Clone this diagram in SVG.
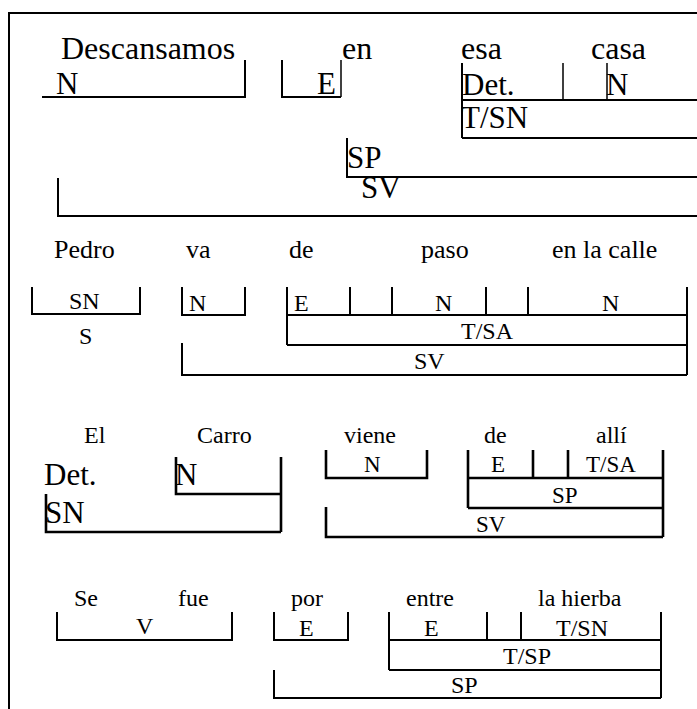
<svg xmlns="http://www.w3.org/2000/svg" width="697" height="709" viewBox="0 0 697 709">
<style>
text{font-family:"Liberation Serif","Times New Roman",serif;fill:#000}
.w1{font-size:32px}.l1{font-size:31px}
.w2{font-size:26px}.l2{font-size:24px}
.w3{font-size:24px}.b3{font-size:31px}.l3{font-size:23px}
.w4{font-size:24px}.l4{font-size:24px}
.br{fill:none;stroke:#000;stroke-width:2}
.br3{fill:none;stroke:#000;stroke-width:2.6}
.thin{fill:none;stroke:#000;stroke-width:1.5}
</style>
<rect width="697" height="709" fill="#fff"/>
<g id="frame"><path class="br" d="M9,709 V13 H697"/></g>

<g id="sentence1">
  <g id="s1-words">
    <text class="w1" x="61" y="59">Descansamos</text>
    <text class="w1" x="342" y="59">en</text>
    <text class="w1" x="461" y="59">esa</text>
    <text class="w1" x="591" y="59">casa</text>
  </g>
  <g id="s1-N"><path class="br" d="M42,97 H245 V60"/><text class="l1" x="56" y="94">N</text></g>
  <g id="s1-E"><path class="br" d="M282,60 V97 H341"/><path class="thin" d="M341,97 V60"/><text class="l1" x="317" y="94">E</text></g>
  <g id="s1-TSN">
    <path class="br" d="M462,63 V138 M462,100 H697 M462,138 H697"/>
    <path class="thin" d="M563,63 V100 M607,63 V100"/>
    <text class="l1" x="462" y="95">Det.</text>
    <text class="l1" x="606" y="95">N</text>
    <text class="l1" x="461" y="128">T/SN</text>
  </g>
  <g id="s1-SP"><path class="br" d="M347,138 V177 H697"/><text class="l1" x="347" y="168">SP</text></g>
  <g id="s1-SV"><path class="br" d="M58,178 V216 H697"/><text class="l1" x="361" y="198">SV</text></g>
</g>

<g id="sentence2">
  <g id="s2-words">
    <text class="w2" x="54" y="258">Pedro</text>
    <text class="w2" x="186" y="258">va</text>
    <text class="w2" x="289" y="258">de</text>
    <text class="w2" x="421" y="258">paso</text>
    <text class="w2" x="552" y="258">en la calle</text>
  </g>
  <g id="s2-SN"><path class="br" d="M32,287 V314 H140 V287"/><text class="l2" x="69" y="309">SN</text><text class="l2" x="79" y="344">S</text></g>
  <g id="s2-N"><path class="br" d="M182,287 V315 H245 V287"/><text class="l2" x="189" y="311">N</text></g>
  <g id="s2-TSA">
    <path class="br" d="M287,287 V345 M287,315 H687 M287,345 H687 M350,287 V315 M392,287 V315 M486,287 V315 M528,287 V315 M687,287 V375"/>
    <text class="l2" x="294" y="311">E</text>
    <text class="l2" x="435" y="311">N</text>
    <text class="l2" x="602" y="311">N</text>
    <text class="l2" x="461" y="339">T/SA</text>
  </g>
  <g id="s2-SV"><path class="br" d="M182,343 V375 H687"/><text class="l2" x="414" y="369">SV</text></g>
</g>

<g id="sentence3">
  <g id="s3-words">
    <text class="w3" x="84" y="443">El</text>
    <text class="w3" x="197" y="443">Carro</text>
    <text class="w3" x="344" y="443">viene</text>
    <text class="w3" x="484" y="443">de</text>
    <text class="w3" x="596" y="443">allí</text>
  </g>
  <g id="s3-Det"><text class="b3" x="44" y="485">Det.</text></g>
  <g id="s3-N"><path class="br3" d="M176,457 V494 H281 M281,457 V532"/><text class="b3" x="175" y="485">N</text></g>
  <g id="s3-SN"><path class="br3" d="M46,494 V532 H281"/><text class="b3" x="45" y="523">SN</text></g>
  <g id="s3-Nv"><path class="br3" d="M326,450 V478 H427 V450"/><text class="l3" x="364" y="472">N</text></g>
  <g id="s3-SP">
    <path class="br3" d="M468,450 V508 M468,478 H663 M533,450 V478 M568,450 V478 M663,450 V537 M468,508 H663"/>
    <text class="l3" x="491" y="472">E</text>
    <text class="l3" x="586" y="472">T/SA</text>
    <text class="l3" x="552" y="503">SP</text>
  </g>
  <g id="s3-SV"><path class="br3" d="M326,507 V537 H663"/><text class="l3" x="476" y="532">SV</text></g>
</g>

<g id="sentence4">
  <g id="s4-words">
    <text class="w4" x="74" y="606">Se</text>
    <text class="w4" x="178" y="606">fue</text>
    <text class="w4" x="291" y="606">por</text>
    <text class="w4" x="406" y="606">entre</text>
    <text class="w4" x="538" y="606">la hierba</text>
  </g>
  <g id="s4-V"><path class="br" d="M57,612 V640 H232 V612"/><text class="l4" x="136" y="634">V</text></g>
  <g id="s4-E"><path class="br" d="M274,612 V640 H348 V612"/><text class="l4" x="299" y="636">E</text></g>
  <g id="s4-TSP">
    <path class="br" d="M389,612 V670 M389,640 H661 M487,612 V640 M521,612 V640 M661,612 V698 M389,670 H661"/>
    <text class="l4" x="424" y="636">E</text>
    <text class="l4" x="556" y="636">T/SN</text>
    <text class="l4" x="503" y="664">T/SP</text>
  </g>
  <g id="s4-SP"><path class="br" d="M274,670 V698 H661"/><text class="l4" x="451" y="693">SP</text></g>
</g>
<g id="connectors"/>
</svg>
